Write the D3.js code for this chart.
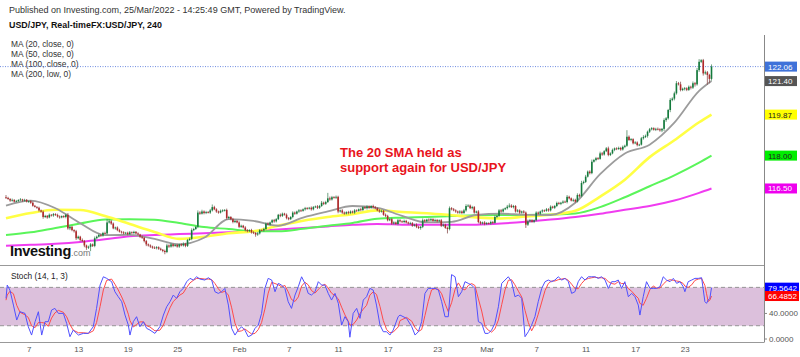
<!DOCTYPE html>
<html><head><meta charset="utf-8">
<script src="https://cdn.jsdelivr.net/npm/d3@7"></script>
<style>body{margin:0;background:#fff}svg{display:block;font-family:"Liberation Sans",Arial,sans-serif}</style>
</head><body><svg id="c" width="800" height="357"></svg>
<script>
// ---------- DATA ----------
const firstOpen = 116.10;
const closes = [
116.07,116.02,115.95,115.98,115.90,115.93,115.97,116.00,115.95,115.98,
115.90,115.92,115.85,115.71,115.66,115.62,115.50,115.44,115.20,115.25,
115.18,115.30,115.27,115.33,115.29,115.22,115.18,115.24,115.20,115.30,
114.68,114.75,114.60,114.55,114.23,114.30,114.15,114.10,113.90,113.80,
113.84,113.95,113.88,114.23,114.30,114.38,114.35,114.47,114.45,114.95,
115.00,114.90,114.68,114.72,114.60,114.53,114.50,114.45,114.48,114.42,
114.50,114.47,114.52,114.45,114.40,114.30,114.25,114.10,113.95,113.90,
113.85,113.80,113.78,113.82,113.75,113.70,113.65,113.60,113.90,113.85,
113.95,113.88,113.92,113.85,113.95,113.90,113.98,113.88,114.15,114.20,
114.60,114.65,114.75,115.40,115.35,115.45,115.38,115.42,115.40,115.50,
115.65,115.55,115.45,115.40,115.48,115.50,115.52,115.15,115.20,115.10,
114.97,115.02,114.95,114.75,114.80,114.72,114.60,114.55,114.60,114.50,
114.47,114.40,114.45,114.60,114.58,114.65,114.90,114.85,114.95,115.05,
115.00,115.10,115.30,115.25,115.35,115.30,115.15,115.10,115.20,115.40,
115.35,115.45,115.50,115.48,115.55,115.60,115.58,115.62,115.55,115.65,
115.68,115.62,115.70,115.85,115.80,115.88,116.05,116.00,116.10,116.08,
116.12,115.45,115.50,115.40,115.35,115.42,115.38,115.45,115.40,115.50,
115.48,115.55,115.52,115.65,115.60,115.68,115.62,115.70,115.65,115.60,
115.50,115.45,115.48,115.30,115.25,115.05,115.10,114.90,114.95,114.88,
115.05,115.00,114.97,115.02,114.95,114.90,114.92,114.80,114.85,114.75,
114.70,114.75,115.05,115.00,115.08,115.05,115.10,115.02,115.06,115.00,
115.05,114.80,114.85,114.70,114.65,115.60,115.55,115.50,115.45,115.40,
115.45,115.38,115.50,115.70,115.72,115.60,115.65,115.40,115.45,114.97,
114.90,114.95,114.88,114.92,114.90,114.97,114.93,115.20,115.25,115.50,
115.45,115.55,115.60,115.67,115.72,115.65,115.70,115.45,115.50,115.40,
115.45,115.40,114.85,115.00,115.05,114.98,115.05,115.40,115.35,115.45,
115.50,115.48,115.55,115.50,115.67,115.62,115.70,115.84,115.80,115.85,
115.90,115.88,116.12,116.05,115.95,115.98,115.90,116.20,116.15,116.75,
116.80,117.04,117.27,117.20,117.72,117.80,117.88,117.85,118.10,118.05,
118.20,118.33,118.03,118.10,118.26,118.33,118.30,118.35,118.28,118.40,
118.45,118.86,118.71,118.75,118.56,118.60,118.48,118.50,118.79,118.85,
118.90,119.09,119.20,119.25,119.18,119.22,119.20,119.15,119.22,119.62,
119.70,120.08,120.54,120.60,120.84,121.30,121.25,120.99,121.05,121.07,
121.00,121.14,121.10,121.30,121.25,121.90,122.28,122.35,121.75,121.80,
121.68,121.50,122.06];
// wick extents beyond the body, in hundredths of a yen
const upWick = [
10,5,4,6,3,5,4,6,3,5, 4,3,5,6,4,3,5,4,6,5, 4,6,3,5,4,6,5,3,4,5, 8,6,5,4,6,5,4,7,5,4,
5,6,4,8,5,6,4,5,6,16, 10,6,5,4,5,6,4,5,4,5, 6,4,5,4,5,3,6,4,5,4, 5,4,6,5,4,5,4,6,8,5,
6,4,5,6,4,5,6,4,5,6, 8,6,5,10,6,8,5,6,5,7, 12,6,5,4,6,5,4,6,5,4, 6,5,4,6,5,4,6,5,4,6,
5,4,6,5,4,6,5,6,4,5, 6,5,4,6,5,4,6,5,4,6, 5,4,6,5,4,6,5,4,6,5, 4,6,5,8,5,6,25,8,6,5,
6,5,4,6,5,4,6,5,4,6, 5,4,6,5,4,6,5,4,6,5, 4,6,5,4,6,5,4,6,5,4, 6,5,4,6,5,4,6,5,4,6,
5,4,8,5,4,6,5,4,6,5, 4,6,5,4,6,8,5,6,5,4, 6,5,7,8,6,5,6,5,4,6, 5,4,6,5,4,6,5,8,5,6,
6,5,4,8,10,6,5,4,6,5, 4,6,5,8,6,5,4,6,5,4, 5,4,6,5,6,4,5,6,5,4, 6,5,8,5,4,6,5,8,6,10,
6,8,5,6,10,5,6,5,8,6, 5,6,8,5,6,4,5,6,5,6, 5,30,6,5,4,6,5,4,6,8, 6,5,6,5,4,5,6,5,4,8,
6,5,8,6,8,10,6,12,5,6, 5,6,5,8,6,10,12,5,6,8, 6,5,10];
const dnWick = [
5,4,6,5,4,3,5,4,6,5, 4,6,5,4,3,5,6,4,8,5, 6,4,5,6,4,5,6,4,5,6, 6,8,5,6,8,5,6,5,8,10,
6,20,5,6,5,4,6,5,4,6, 5,6,4,6,5,4,6,5,4,6, 5,4,6,5,4,6,5,6,8,5, 6,5,4,6,5,4,6,10,5,6,
5,6,4,5,6,4,5,6,5,4, 6,5,4,6,5,4,6,5,4,6, 5,4,6,5,4,6,5,8,6,5, 6,5,4,6,5,4,6,5,4,6,
5,10,6,5,4,6,5,4,6,5, 6,5,4,6,5,4,6,5,4,6, 5,4,6,5,4,6,5,4,6,5, 4,6,5,4,6,5,4,6,5,4,
6,8,5,6,5,4,6,5,4,6, 5,4,6,5,4,6,5,4,6,5, 4,6,5,4,6,5,4,6,5,4, 6,5,4,6,5,4,6,5,4,6,
5,8,6,5,4,6,5,4,6,5, 4,6,5,4,20,6,5,4,6,5, 6,5,4,6,5,4,6,5,4,6, 5,4,6,5,4,6,5,4,6,5,
6,5,4,6,5,4,6,5,4,6, 5,4,15,6,5,4,6,5,4,6, 6,5,4,6,5,4,6,5,4,6, 5,4,6,5,4,6,5,4,6,5,
6,5,4,6,5,4,6,5,4,6, 5,4,6,5,4,6,5,4,6,5, 6,5,4,6,5,4,6,5,4,6, 5,8,6,5,4,6,5,6,8,10,
8,6,10,6,8,6,5,6,5,8, 6,5,8,6,10,6,8,6,10,6, 45,20,8];

// moving averages, read at these bar indices
const maIdx = [0,12,24,36,48,60,72,84,96,108,120,132,144,156,168,180,192,204,216,228,240,252,264,276,288,300,312,324,336,342];
const ma20  = [115.72,115.95,115.60,114.91,114.37,114.38,114.20,113.95,114.25,115.10,115.02,114.80,115.17,115.45,115.70,115.62,115.25,114.95,114.98,115.29,115.35,115.30,115.29,115.85,117.15,118.10,118.50,119.50,120.95,121.40];
const ma50  = [115.14,115.38,115.53,115.52,115.24,114.88,114.52,114.20,114.30,114.46,114.55,114.80,115.03,115.20,115.33,115.50,115.43,115.37,115.28,115.18,115.13,115.22,115.30,115.48,116.13,116.90,117.93,118.70,119.52,119.87];
const ma100 = [114.38,114.50,114.70,114.90,115.08,115.10,115.07,114.92,114.74,114.65,114.55,114.55,114.66,114.80,114.93,115.12,115.17,115.20,115.24,115.28,115.29,115.29,115.31,115.36,115.65,116.10,116.60,117.10,117.68,118.00];
const ma200 = [113.89,113.93,113.98,114.06,114.18,114.32,114.38,114.42,114.46,114.50,114.55,114.63,114.70,114.77,114.84,114.88,114.85,114.84,114.84,114.85,114.90,114.98,115.08,115.20,115.35,115.53,115.70,115.95,116.30,116.50];
const maNames = ["MA (20, close, 0)","MA (50, close, 0)","MA (100, close, 0)","MA (200, low, 0)"];

// stochastic (14,1,3), read at these bar indices
const stochIdx = [0,0.6,1.9,3.6,5.2,6.8,9.2,10.8,12.4,14.1,15.7,17.3,18.9,20.5,22.1,23.7,25.4,27.8,29.4,31.0,32.6,35.1,37.5,39.9,42.3,43.9,45.6,47.2,48.8,51.2,52.8,54.4,56.1,57.7,59.3,60.1,61.7,63.3,64.9,66.6,68.2,69.8,72.2,74.6,76.3,77.9,79.5,81.1,82.7,84.3,85.9,87.6,89.2,90.8,92.4,94.0,96.4,98.1,99.7,101.3,102.9,104.5,106.1,107.8,109.4,111.0,112.6,114.2,115.8,117.4,119.1,120.7,122.3,123.9,125.5,127.1,128.8,130.4,132.0,133.6,135.2,136.8,138.4,140.1,141.7,143.3,144.9,146.5,148.1,149.8,151.4,153.0,154.6,156.2,157.8,159.5,161.1,162.7,164.3,165.9,166.7,168.3,170.0,171.6,173.2,174.8,176.4,178.0,179.6,181.3,182.9,184.5,186.1,187.7,190.1,
191.0,194.2,196.7,198.3,199.9,201.5,203.1,204.7,206.3,208.0,209.6,211.2,212.8,214.4,216.0,217.7,219.3,220.9,222.5,224.1,225.7,227.3,229.0,230.6,232.2,233.8,235.4,237.0,238.7,240.3,241.9,243.5,245.1,246.7,248.4,250.0,251.6,253.2,254.8,256.4,258.0,259.7,261.3,262.9,264.5,266.1,267.7,269.4,271.0,272.6,274.2,275.8,277.4,279.0,280.7,282.3,283.9,285.5,287.1,288.7,290.4,292.0,293.6,295.2,296.8,298.4,300.0,301.7,303.3,304.9,306.5,307.3,308.9,310.5,312.2,313.8,315.4,317.0,318.6,320.2,321.9,323.5,325.1,326.7,328.3,329.1,330.7,332.4,334.0,335.6,337.2,338.8,339.6,340.4,341.2,342.0];
const stochK = [62.8,83.6,75.8,52.3,28.9,41.9,39.3,18.4,5.4,26.3,41.9,5.4,26.3,26.3,44.5,47.1,39.3,39.3,23.7,2.8,13.2,5.4,8.0,8.0,18.4,47.1,83.6,96.6,94.1,88.9,73.2,65.4,57.6,36.7,21.0,5.4,26.3,34.1,18.4,26.3,15.8,13.2,8.0,18.4,36.7,49.7,57.6,68.0,62.8,73.2,78.4,88.9,94.1,91.5,96.6,93.0,91.5,95.1,91.5,73.2,70.6,73.2,78.4,52.3,15.8,5.4,13.2,18.4,13.2,2.8,5.4,15.8,21.0,39.3,78.4,94.1,91.5,73.2,86.3,83.6,78.4,57.6,47.1,68.0,81.0,96.6,86.3,70.6,68.0,73.2,88.9,83.6,83.6,70.6,60.2,70.6,55.0,21.0,34.1,26.3,2.0,39.3,47.1,31.5,60.2,65.4,78.4,75.8,52.3,21.0,10.6,10.6,5.4,13.2,34.1,
36.7,31.5,18.4,5.4,10.6,26.3,70.6,78.4,78.4,78.4,75.8,57.6,34.1,34.1,100,96.6,65.4,73.2,88.9,86.3,83.6,78.4,26.3,23.7,8.0,8.0,13.2,23.7,49.7,86.3,91.5,96.6,88.9,65.4,68.0,62.8,2.8,10.6,21.0,34.1,57.6,78.4,88.9,91.5,88.9,91.5,96.6,91.5,94.1,88.9,70.6,73.2,88.9,96.6,91.5,96.6,96.6,96.6,94.1,96.6,91.5,78.4,88.9,88.9,91.5,78.4,88.9,65.4,70.6,65.4,52.3,36.7,65.4,88.9,78.4,78.4,78.4,81.0,96.6,91.5,88.9,94.1,86.3,88.9,81.0,73.2,88.9,91.5,94.1,94.1,95.1,57.6,55.0,60.2,62.8,79.5642];
const stochD = [60,68,74,70,52,41,37,33,20,17,25,25,24,19,32,40,44,41,34,22,13,9,9,8,12,25,50,76,91,93,85,76,65,53,38,28,18,22,26,26,20,18,12,13,21,35,48,58,63,68,71,80,87,91,94,94,93,93,92,86,78,72,74,68,48,24,11,12,15,11,7,8,14,25,46,71,88,86,84,81,83,73,61,58,65,82,88,84,75,71,77,82,85,79,71,67,62,49,37,27,21,22,29,39,46,52,68,73,69,50,28,14,9,10,18,
28,33,27,17,11,14,36,58,76,78,77,70,55,42,56,77,87,78,76,83,86,83,62,43,19,13,10,15,29,53,76,91,92,84,74,65,44,25,12,22,38,57,75,86,90,90,92,93,94,91,85,78,78,86,92,94,95,96,95,95,94,89,86,85,89,86,86,78,74,68,63,55,52,63,77,82,79,79,85,90,92,91,90,89,86,82,80,84,91,93,94,83,70,58,60,66.4852];

// tick values (those fully covered by a price badge are left out, as in the reference)
const priceTicks = [113,114,115,116,117,119,120,121,123];
const stochTicks = [0,40];
const dayTickDates  = ["2022-01-07","2022-01-13","2022-01-19","2022-01-25","2022-02-01","2022-02-07","2022-02-11","2022-02-17","2022-02-23","2022-03-01","2022-03-07","2022-03-11","2022-03-17","2022-03-23"];
const dayTickLabels = ["7","13","19","25","Feb","7","11","17","23","Mar","7","11","17","23"];

// ---------- BUILD ----------
const N = closes.length;
// 4h bars of the trading week, starting Jan 5 2022 04:00
const barTimes = [];
for (let t = Date.UTC(2022,0,5); barTimes.length < N + 1; t += 86400000) {
  const d = new Date(t).getUTCDay();
  if (d === 0 || d === 6) continue;
  for (let h = 0; h < 24; h += 4) barTimes.push(t + h*3600000);
}
barTimes.shift();
const bars = closes.map((c,i) => {
  const o = i === 0 ? firstOpen : closes[i-1];
  return {i, t: barTimes[i], o, c, h: Math.max(o,c) + upWick[i]/100, l: Math.min(o,c) - dnWick[i]/100};
});

const svg = d3.select("#c");
const axisX = 764;
const x  = d3.scaleLinear().domain([0, N-1]).range([6, 711.5]);
const y  = d3.scaleLinear().domain([113,123]).range([265.2, 46]);
const ys = d3.scaleLinear().domain([0,100]).range([338.5, 274.6]);

const defs = svg.append("defs");
defs.append("clipPath").attr("id","mainClip").append("rect").attr("x",0).attr("y",34).attr("width",axisX).attr("height",231);
defs.append("clipPath").attr("id","axClip").append("rect").attr("x",axisX).attr("y",34).attr("width",40).attr("height",231);
defs.append("clipPath").attr("id","stClip").append("rect").attr("x",0).attr("y",266).attr("width",axisX).attr("height",76);

// header
svg.append("text").attr("x",9).attr("y",13).attr("font-size",9).attr("fill","#333")
  .text("Published on Investing.com, 25/Mar/2022 - 14:25:49 GMT, Powered by TradingView.");
svg.append("text").attr("x",9).attr("y",27.5).attr("font-size",8.9).attr("font-weight","bold").attr("fill","#111")
  .text("USD/JPY, Real-timeFX:USD/JPY, 240");

svg.selectAll("text.ma").data(maNames).join("text").attr("class","ma")
  .attr("x",11).attr("y",(d,k)=>46.8+k*10.2).attr("font-size",8.4).attr("fill","#333").text(d=>d);

// current price dotted line
svg.append("line").attr("x1",0).attr("x2",axisX).attr("y1",y(closes[N-1])).attr("y2",y(closes[N-1]))
  .attr("stroke","#4a6fd8").attr("stroke-width",0.8).attr("stroke-dasharray","1,1.5");

// main chart
const main = svg.append("g").attr("clip-path","url(#mainClip)");
const maLine = vals => d3.line().x((v,k)=>x(maIdx[k])).y(v=>y(v)).curve(d3.curveMonotoneX)(vals);
[[ma200,"#f03cf0",2],[ma100,"#5af55a",2],[ma50,"#ffff44",2.6],[ma20,"#9c9c9c",1.8]].forEach(([v,c,w])=>{
  main.append("path").attr("d",maLine(v)).attr("fill","none").attr("stroke",c).attr("stroke-width",w);
});
const cg = main.append("g");
cg.selectAll("line").data(bars).join("line")
  .attr("x1",d=>x(d.i)).attr("x2",d=>x(d.i)).attr("y1",d=>y(d.h)).attr("y2",d=>y(d.l))
  .attr("stroke",d=>d.c>=d.o?"#4f8a63":"#8a4f4f").attr("stroke-width",0.8);
cg.selectAll("rect").data(bars).join("rect")
  .attr("x",d=>x(d.i)-0.8).attr("width",1.6)
  .attr("y",d=>y(Math.max(d.o,d.c))).attr("height",d=>Math.max(0.8, Math.abs(y(d.o)-y(d.c))))
  .attr("fill",d=>d.c>=d.o?"#137a3c":"#b0282a");

// annotation
svg.append("text").attr("x",340).attr("y",157).attr("font-size",13).attr("font-weight","bold").attr("fill","#e8141c").text("The 20 SMA held as");
svg.append("text").attr("x",340).attr("y",172).attr("font-size",13).attr("font-weight","bold").attr("fill","#e8141c").text("support again for USD/JPY");

// logo
const logo = svg.append("text").attr("x",10).attr("y",256);
logo.append("tspan").attr("font-size",14.5).attr("font-weight","bold").attr("fill","#111").attr("letter-spacing",-0.3).text("Investing");
logo.append("tspan").attr("font-size",9).attr("fill","#777").text(".com");

// price axis
const pa = svg.append("g").attr("transform",`translate(${axisX},0)`).attr("clip-path","url(#axClip)")
  .call(d3.axisRight(y).tickValues(priceTicks).tickFormat(d3.format(".2f")).tickSize(3).tickPadding(2));
pa.select(".domain").remove();
pa.selectAll("text").attr("font-size",8).attr("fill","#555").attr("font-family","Liberation Sans, Arial, sans-serif");
pa.selectAll("line").attr("stroke","#888");

// stochastic panel
svg.append("rect").attr("x",0).attr("width",axisX).attr("y",ys(80)).attr("height",ys(20)-ys(80)).attr("fill","#dcc0dc");
[80,20].forEach(v=>svg.append("line").attr("x1",0).attr("x2",axisX).attr("y1",ys(v)).attr("y2",ys(v))
  .attr("stroke","#8c8c8c").attr("stroke-width",0.9).attr("stroke-dasharray","4,3"));
const st = svg.append("g").attr("clip-path","url(#stClip)");
const stLine = vals => d3.line().x((v,k)=>x(stochIdx[k])).y(v=>ys(v))(vals);
st.append("path").attr("d",stLine(stochD)).attr("fill","none").attr("stroke","#ff4a4a").attr("stroke-width",1);
st.append("path").attr("d",stLine(stochK)).attr("fill","none").attr("stroke","#5050ff").attr("stroke-width",1);
svg.append("text").attr("x",11).attr("y",279).attr("font-size",8.3).attr("fill","#222").text("Stoch (14, 1, 3)");

const sa = svg.append("g").attr("transform",`translate(${axisX},0)`)
  .call(d3.axisRight(ys).tickValues(stochTicks).tickFormat(d3.format(".4f")).tickSize(3).tickPadding(2));
sa.select(".domain").remove();
sa.selectAll("text").attr("font-size",8).attr("fill","#555").attr("font-family","Liberation Sans, Arial, sans-serif");
sa.selectAll("line").attr("stroke","#888");

// frame lines
svg.append("line").attr("x1",0).attr("x2",axisX).attr("y1",265.5).attr("y2",265.5).attr("stroke","#999");
svg.append("line").attr("x1",0).attr("x2",axisX).attr("y1",342.5).attr("y2",342.5).attr("stroke","#999");
svg.append("line").attr("x1",axisX+0.5).attr("x2",axisX+0.5).attr("y1",35).attr("y2",342.5).attr("stroke","#888");

// time axis
const tickIdx = dayTickDates.map(s => barTimes.indexOf(Date.parse(s+"T00:00:00Z")));
const ta = svg.append("g").attr("transform","translate(0,342)")
  .call(d3.axisBottom(x).tickValues(tickIdx).tickFormat((d,k)=>dayTickLabels[k]).tickSize(0).tickPadding(4));
ta.select(".domain").remove();
ta.selectAll("text").attr("font-size",8).attr("fill","#555").attr("font-family","Liberation Sans, Arial, sans-serif");

// badges
function badge(val, txt, bg, fg, yScale, w) {
  const cy = yScale(val);
  svg.append("rect").attr("x",axisX+1).attr("y",cy-5).attr("width",w).attr("height",10).attr("fill",bg);
  svg.append("text").attr("x",axisX+4).attr("y",cy+3).attr("font-size",8).attr("fill",fg).text(txt);
}
badge(closes[N-1], d3.format(".2f")(closes[N-1]), "#3f72d9", "#fff", y, 32);
badge(ma20[ma20.length-1], d3.format(".2f")(ma20[ma20.length-1]), "#555555", "#fff", y, 32);
badge(ma50[ma50.length-1], d3.format(".2f")(ma50[ma50.length-1]), "#ffff00", "#222", y, 32);
badge(ma100[ma100.length-1], d3.format(".2f")(ma100[ma100.length-1]), "#00ee00", "#222", y, 32);
badge(ma200[ma200.length-1], d3.format(".2f")(ma200[ma200.length-1]), "#ee00ee", "#fff", y, 32);
badge(stochK[stochK.length-1], d3.format(".4f")(stochK[stochK.length-1]), "#0000ff", "#fff", ys, 34);
badge(stochD[stochD.length-1], d3.format(".4f")(stochD[stochD.length-1]), "#ff0000", "#fff", ys, 34);
</script></body></html>
